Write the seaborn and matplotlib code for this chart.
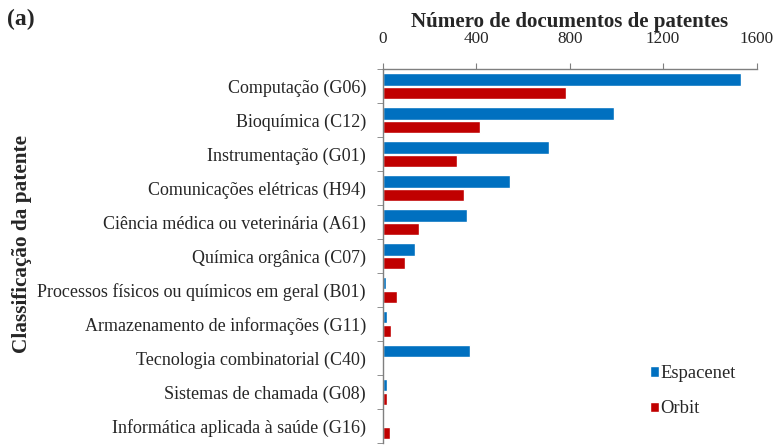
import numpy as np
import pandas as pd
import matplotlib
matplotlib.use('Agg')
import matplotlib.pyplot as plt
import seaborn as sns

# data
categorias = ['Computação (G06)', 'Bioquímica (C12)', 'Instrumentação (G01)',
              'Comunicações elétricas (H94)', 'Ciência médica ou veterinária (A61)',
              'Química orgânica (C07)', 'Processos físicos ou químicos em geral (B01)',
              'Armazenamento de informações (G11)', 'Tecnologia combinatorial (C40)',
              'Sistemas de chamada (G08)', 'Informática aplicada à saúde (G16)']
espacenet = [1533, 990, 710, 543, 361, 138, 14, 20, 374, 20, 0]
orbit = [784, 418, 316, 349, 157, 94, 63, 34, 0, 18, 30]
bases = ['Espacenet', 'Orbit']
cores = ['#0070C0', '#C00000']
x_ticks = [0, 400, 800, 1200, 1600]

df = pd.DataFrame({
    'Classificação': categorias * 2,
    'Base': ['Espacenet'] * len(categorias) + ['Orbit'] * len(categorias),
    'Documentos': espacenet + orbit,
})

sns.set_style('white')
plt.rcParams['font.family'] = ['Liberation Serif', 'DejaVu Serif']

fig = plt.figure(figsize=(7.74, 4.45), dpi=100)
ax = fig.add_axes([0.4944, 0.0045, 0.4832, 0.8395])

sns.barplot(data=df, y='Classificação', x='Documentos', hue='Base',
            hue_order=bases, palette=cores, order=categorias,
            width=0.8, gap=0.1, saturation=1, ax=ax)

ax.set_xlim(0, 1600)
ax.set_xticks(x_ticks)
ax.xaxis.tick_top()
ax.xaxis.set_label_position('top')
ax.tick_params(axis='x', labelsize=12.3, length=4, direction='out', color='#7f7f7f', pad=12)
ax.set_xlabel('Número de documentos de patentes', fontsize=15.1, fontweight='bold', labelpad=3)

# category labels at centres, tick marks at the boundaries
ax.set_ylim(len(categorias) - 0.5, -0.5)
ax.tick_params(axis='y', labelsize=13, length=0, pad=12)
ax.set_yticks(np.arange(len(categorias) + 1) - 0.5, minor=True)
ax.tick_params(axis='y', which='minor', length=4, direction='out', color='#7f7f7f', left=True)
ax.set_ylabel('')

for s in ['right', 'bottom']:
    ax.spines[s].set_visible(False)
for s in ['left', 'top']:
    ax.spines[s].set_color('#7f7f7f')
    ax.spines[s].set_linewidth(1)

fig.text(0.028, 0.452, 'Classificação da patente', rotation=90, fontsize=15.3,
         fontweight='bold', ha='center', va='center')
fig.text(0.009, 0.957, '(a)', fontsize=17, fontweight='bold', ha='left', va='center')

handles, labels = ax.get_legend_handles_labels()
ax.legend(handles, labels, loc='center left', bbox_to_anchor=(0.818, 0.121),
          bbox_transform=fig.transFigure, frameon=False, fontsize=13.4,
          handlelength=0.5, handleheight=0.5, handletextpad=0.05, labelspacing=1.0)

fig.savefig('out.png', dpi=100)
